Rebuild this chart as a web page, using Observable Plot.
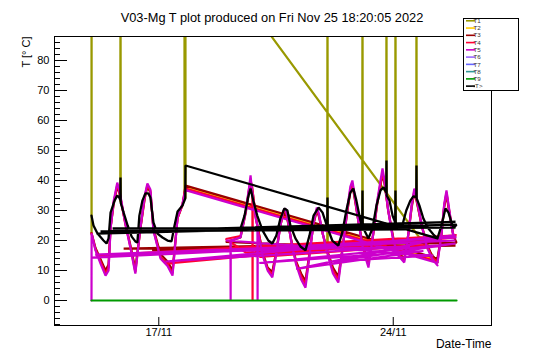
<!DOCTYPE html>
<html><head><meta charset="utf-8">
<script src="https://cdn.jsdelivr.net/npm/d3@7"></script>
<script src="https://cdn.jsdelivr.net/npm/@observablehq/plot@0.6"></script>
<style>body{margin:0;background:#fff} #chart{width:546px;height:362px}</style>
</head><body><div id="chart"></div>
<script>
// ---- text ----
const title = "V03-Mg T plot produced on Fri Nov 25 18:20:05 2022";
const yLabel = "T [° C]";
const xLabel = "Date-Time";
// ---- axes (x in days since 17/11 00:00) ----
const xTicks = [0, 7];
const xTickLabels = ["17/11", "24/11"];
const yMajor = [0, 10, 20, 30, 40, 50, 60, 70, 80];
const yMinor = [-8, -6, -4, -2, 2, 4, 6, 8, 12, 14, 16, 18, 22, 24, 26, 28, 32, 34, 36, 38, 42, 44, 46, 48, 52, 54, 56, 58, 62, 64, 66, 68, 72, 74, 76, 78, 82, 84, 86, 88];
const xDomain = [-3.114, 9.934];
const yDomain = [-8.33, 88];
// ---- legend ----
const seriesNames = ["T1", "T2", "T3", "T4", "T5", "T6", "T7", "T8", "T9", "<T>"];
const seriesColors = ["#999900", "#ffcc00", "#990000", "#ff0033", "#cc00cc", "#9966ff", "#6666ff", "#339999", "#009900", "#000000"];

// ---- series: [day, value] in recorded order (null = gap) ----
const t1 = [
  [-2.009,22.3],[-2.009,130],[-2.006,130],[-2.006,22.3], null,
  [-1.15,33],[-1.143,130],[-1.136,33], null,
  [0.767,34],[0.767,130],[0.797,34],[0.797,127],[8.32,12.8], null,
  [5.03,18],[5.037,130],[5.044,18], null,
  [6.075,26],[6.082,130],[6.089,26], null,
  [6.792,36],[6.798,130],[6.804,36], null,
  [7.06,25],[7.067,130],[7.074,25], null,
  [7.688,34],[7.694,130],[7.7,34]
];
const t2 = [[0.797,37.8],[8.32,13.5]];
const t3 = [
  [-2.009,22.5],[-1.89,17.5],[-1.74,13.8],[-1.59,10],[-1.5,12],[-1.44,24.5],[-1.35,32],[-1.24,38],[-1.18,36],[-1.0,26],[-0.85,18.5],[-0.7,10.5],[-0.55,24],[-0.42,34],[-0.34,38],[-0.25,36],[-0.16,24],[0.05,15.5],[0.26,13],[0.41,10],[0.5,20.5],[0.56,27.5],[0.71,32],[0.797,38.3],
  [8.32,14],[8.44,22],[8.52,31],[8.59,35.5],[8.65,31],[8.74,25],[8.8,21.5],[8.89,19.3],
  [-1.05,17.3],[8.86,18.3],[-0.2,16.8],[7.0,19],[4.5,18.7],[6.5,17.5],[2.0,19.5],
  [2.44,21],[2.6,29.5],[2.7,37],[2.74,39.5],[2.8,36.5],[2.9,27.5],[3.1,16],[3.25,11],[3.39,9.5],[3.5,16],[3.63,25],[3.72,29],[3.78,29.5],[3.84,27],[3.95,20.5],[4.1,13],[4.25,9],[4.38,6.5],[4.5,16],[4.62,25.5],[4.72,30],[4.78,28],[4.9,22],[5.05,16],[5.2,11],[5.36,8],[5.5,18.5],[5.62,29],[5.72,36.5],[5.78,38.5],[5.85,34],[5.98,25],[6.1,18],[6.26,12.5],[6.4,22],[6.52,32],[6.62,38.5],[6.68,42],[6.74,39],[6.85,30],[7.0,21],[7.15,16],[7.33,14],[7.45,22],[7.55,31],[7.63,36],[7.7,33],[7.85,25],[8.0,19],[8.15,15],[8.32,13.5]
];
const t4 = [
  [-2.009,22.3],[-1.89,17],[-1.74,13],[-1.59,9],[-1.5,11],[-1.44,24],[-1.35,32.5],[-1.24,38.5],[-1.18,36.5],[-1.0,25.5],[-0.85,18],[-0.7,9.5],[-0.55,24],[-0.42,34.5],[-0.34,38.5],[-0.25,36.5],[-0.16,23.5],[0.05,14.5],[0.26,12],[0.41,9],[0.5,20],[0.56,27.5],[0.71,32],[0.797,37.3],
  [8.32,13],[8.44,22],[8.52,31.5],[8.59,36],[8.65,31.5],[8.74,25],[8.8,21.5],[8.89,21.7],
  [-1.88,15],[8.86,21],[0.2,12.3],[8.89,21.7],[3.0,14.5],[8.0,18.5],[2.6,16],
  [2.0,20.5],[2.44,21.5],[2.6,30],[2.7,37.5],[2.74,40],[2.795,37.5],[2.8,0],[2.805,36],[2.9,27.5],[3.1,15.5],[3.25,10.5],[3.39,8.5],[3.5,15.5],[3.63,25],[3.72,29.5],[3.78,30],[3.84,27.5],[3.95,20],[4.1,12.5],[4.25,8],[4.38,5.5],[4.5,15.5],[4.62,26],[4.72,30.5],[4.78,28.5],[4.9,22],[5.05,15.5],[5.2,10],[5.36,7],[5.5,18.5],[5.62,29.5],[5.72,37],[5.78,39],[5.85,34.5],[5.98,25],[6.1,17.5],[6.26,12],[6.4,22],[6.52,32.5],[6.62,39],[6.68,42.5],[6.74,39.5],[6.85,30],[7.0,20.5],[7.15,15.5],[7.33,13.5],[7.45,22],[7.55,31.5],[7.63,36.5],[7.7,33.5],[7.85,25],[8.0,18.5],[8.15,14.5],[8.32,12.7]
];
const t5 = [
  [-2.009,0],[-2.006,22.3],[-1.89,16.7],[-1.74,12.3],[-1.59,8.3],[-1.5,10],[-1.44,24],[-1.35,33],[-1.24,39.3],[-1.18,37],[-1.0,25.7],[-0.85,17.7],[-0.7,9],[-0.55,24.3],[-0.42,35],[-0.34,39],[-0.25,37],[-0.16,23.3],[0.05,14],[0.26,11.5],[0.41,8.3],[0.5,20],[0.56,27.7],[0.71,32.3],[0.797,36.8],
  [8.32,12.5],[8.44,22],[8.52,32],[8.59,36.7],[8.65,32],[8.74,25],[8.8,21],[8.89,21],
  [-1.98,14.3],[8.86,20],[-1.9,15.3],[7.5,18],[0.2,13],[8.86,21.7],[4.1,10.5],[7.9,16.5],[3.0,12.5],[8.86,19],[5.2,13],[8.2,15],
  [2.0,20],[2.14,20],[2.145,0],[2.15,20],[2.44,21],[2.6,30],[2.7,38],[2.74,41.7],[2.78,37],[2.9,27],[2.945,25],[2.95,0],[2.955,23],[3.1,15],[3.25,10],[3.39,7.7],[3.5,15],[3.63,25],[3.72,30],[3.78,30.7],[3.84,28],[3.95,20],[4.1,12],[4.25,7],[4.38,4.3],[4.5,15],[4.62,26],[4.72,31],[4.78,29],[4.9,22],[5.05,15],[5.2,9],[5.36,6],[5.5,18],[5.62,30],[5.72,38],[5.78,40],[5.85,35],[5.98,25],[6.1,17],[6.26,11],[6.4,22],[6.52,33],[6.62,40],[6.68,44],[6.74,40],[6.85,30],[7.0,20],[7.15,15],[7.33,12.7],[7.45,22],[7.55,32],[7.63,37.3],[7.7,34],[7.85,25],[8.0,18],[8.15,14],[8.32,11.7]
];
const t9 = [[-2.009,0],[8.89,0]];
const tAvg = [
  [-2.009,28.3],[-1.95,25],[-1.83,22.3],[-1.65,20],[-1.56,19],[-1.5,20.7],[-1.44,29.3],[-1.32,33.3],[-1.24,35],[-1.18,34.3],[-1.15,33.5],[-1.143,41],[-1.136,32.5],[-1.05,29.3],[-0.93,25],[-0.81,21.3],[-0.7,19.7],[-0.64,19.3],[-0.58,28.3],[-0.49,33.3],[-0.4,35.7],[-0.31,35.7],[-0.25,34.3],[-0.16,26],[-0.04,22.3],[0.11,21],[0.26,20],[0.38,19.7],[0.47,25],[0.56,29.7],[0.71,31.7],[0.79,34],[0.797,45],
  [8.32,20.7],[8.44,25],[8.56,30.7],[8.65,29.3],[8.74,26],[8.8,24],[8.89,25.3],
  [-1.86,22.3],[8.86,26.2],[-1.74,23],[7.36,23.7],[-1.38,24],[8.86,24.3],
  [2.44,24],[2.56,28.3],[2.68,35],[2.74,37.3],[2.82,33.3],[2.94,28.3],[3.1,23.3],[3.27,20],[3.39,19],[3.51,21.7],[3.63,27.3],[3.75,30.7],[3.84,30],[3.93,25],[4.08,20.7],[4.23,18],[4.38,16.7],[4.5,21.7],[4.62,28.3],[4.77,31],[4.89,29.3],[5.03,24.5],[5.037,34.3],[5.044,24],[5.18,20],[5.36,18.3],[5.48,22.7],[5.6,30],[5.72,36],[5.81,37.3],[5.9,33.3],[6.02,26.7],[6.075,25],[6.082,36.7],[6.089,24.5],[6.17,22.7],[6.26,20.7],[6.38,24],[6.5,31.7],[6.62,36.7],[6.71,37.7],[6.792,36],[6.798,46.7],[6.804,35],[6.89,33.3],[6.98,28.3],[7.06,26],[7.067,36.7],[7.074,25.5],[7.15,24],[7.27,25],[7.39,30],[7.51,33.3],[7.6,34.7],[7.688,34.5],[7.694,45],[7.7,34],[7.78,31.7],[7.9,27.3],[8.05,24],[8.2,22],[8.32,20.7]
];

const toRows = pts => pts.map(p => p ? {d: p[0], v: p[1]} : {d: NaN, v: NaN});
const drawn = [
  [t1, seriesColors[0], 2.2], [t2, seriesColors[1], 2.2], [t3, seriesColors[2], 2.2], [t4, seriesColors[3], 2.2],
  [t5, seriesColors[4], 2.2], [t9, seriesColors[8], 2.2], [tAvg, seriesColors[9], 2.3]
];
const font = "'Liberation Sans', Arial, Helvetica, sans-serif";

const chart = Plot.plot({
  width: 546, height: 362,
  marginLeft: 54, marginRight: 55, marginTop: 36, marginBottom: 37,
  style: {fontFamily: font, fontSize: "11px", color: "black", background: "white"},
  x: {domain: xDomain, axis: null},
  y: {domain: yDomain, axis: null},
  marks: [
    ...drawn.map(([pts, c, w]) => Plot.line(toRows(pts), {x: "d", y: "v", stroke: c, strokeWidth: w, clip: true, strokeLinejoin: "miter"})),
    Plot.frame({stroke: "black", strokeWidth: 1}),
    Plot.tickY(yMajor, {y: d => d, insetRight: 424, stroke: "black"}),
    Plot.tickY(yMinor, {y: d => d, insetRight: 431, stroke: "black"}),
    Plot.tickX(xTicks, {x: d => d, insetTop: 281, stroke: "black"}),
    Plot.axisY({ticks: yMajor, tickSize: 0, tickPadding: 5, label: null, fontSize: 11, tickFormat: d => String(d)}),
    Plot.axisX({ticks: xTicks, tickSize: 0, tickPadding: 3, label: null, fontSize: 11, tickFormat: d => xTickLabels[xTicks.indexOf(d)]}),
    Plot.text([title], {text: d => d, frameAnchor: "top", dy: -24, dx: -1, fontSize: 12.8}),
    Plot.text([xLabel], {text: d => d, frameAnchor: "bottom-right", dy: 22, textAnchor: "end", fontSize: 12}),
    Plot.text([yLabel], {text: d => d, frameAnchor: "top-left", dx: -32, rotate: -90, textAnchor: "end", fontSize: 11})
  ]
});
document.getElementById("chart").appendChild(chart);

// legend box (ROOT TLegend style)
const g = d3.select(chart).append("g");
g.append("rect").attr("x", 463.5).attr("y", 18.5).attr("width", 55).attr("height", 72)
  .attr("fill", "white").attr("stroke", "black").attr("stroke-width", 1);
seriesNames.forEach((n, i) => {
  const y = 20.8 + i * 7.26;
  g.append("line").attr("x1", 466).attr("x2", 475).attr("y1", y).attr("y2", y)
    .attr("stroke", seriesColors[i]).attr("stroke-width", 1.6);
  g.append("text").attr("x", 477).attr("y", y).attr("dy", "0.35em")
    .attr("font-size", 6.2).attr("font-family", font).attr("fill", "#333").text(n);
});
</script>
</body></html>
